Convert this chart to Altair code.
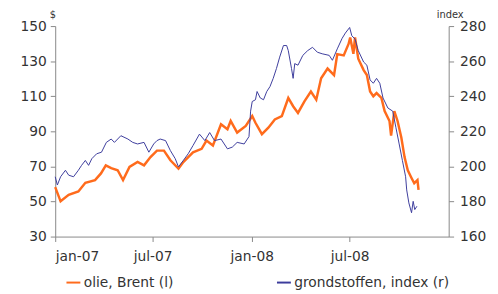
import altair as alt
import pandas as pd

# Brent oil price ($, left axis)
brent_dates = [
    "2007-01-01", "2007-01-11", "2007-01-26", "2007-02-13", "2007-02-26", "2007-03-16",
    "2007-03-27", "2007-04-05", "2007-04-15", "2007-04-27", "2007-05-07", "2007-05-19",
    "2007-06-03", "2007-06-15", "2007-06-27", "2007-07-09", "2007-07-22", "2007-08-03",
    "2007-08-18", "2007-08-27", "2007-09-14", "2007-09-30", "2007-10-09", "2007-10-21",
    "2007-11-05", "2007-11-17", "2007-11-23", "2007-12-05", "2007-12-21", "2008-01-02",
    "2008-01-08", "2008-01-20", "2008-02-01", "2008-02-13", "2008-02-26", "2008-03-09",
    "2008-03-18", "2008-03-27", "2008-04-08", "2008-04-20", "2008-04-30", "2008-05-09",
    "2008-05-21", "2008-06-02", "2008-06-08", "2008-06-20", "2008-06-29", "2008-07-02",
    "2008-07-08", "2008-07-11", "2008-07-17", "2008-07-27", "2008-08-02", "2008-08-08",
    "2008-08-14", "2008-08-20", "2008-08-29", "2008-09-04", "2008-09-13", "2008-09-16",
    "2008-09-22", "2008-09-28", "2008-10-05", "2008-10-11", "2008-10-17", "2008-10-23",
    "2008-10-29", "2008-11-04", "2008-11-06",
]
brent_values = [
    58.2, 50.1, 53.8, 55.7, 60.7, 62.2,
    66.0, 70.6, 69.0, 67.8, 62.2, 69.7,
    72.5, 70.6, 75.3, 79.0, 79.0, 73.5,
    68.8, 72.5, 78.0, 80.0, 84.7, 81.9,
    94.0, 91.2, 95.9, 89.3, 93.1, 98.7,
    94.9, 88.4, 92.1, 96.8, 98.7, 109.0,
    104.3, 100.5, 107.1, 112.7, 108.0, 120.2,
    125.8, 122.0, 134.0, 133.3, 139.8, 143.5,
    134.2, 143.5, 131.4, 124.9, 122.1, 112.7,
    110.0, 111.8, 109.0, 101.5, 95.9, 87.5,
    101.5, 95.9, 86.5, 75.3, 67.8, 64.0,
    60.4, 62.2, 56.6,
]

# Commodity index (right axis)
index_dates = [
    "2007-01-01", "2007-01-05", "2007-01-11", "2007-01-20", "2007-01-26", "2007-02-04",
    "2007-02-13", "2007-02-19", "2007-02-26", "2007-03-04", "2007-03-10", "2007-03-19",
    "2007-03-28", "2007-04-06", "2007-04-15", "2007-04-21", "2007-05-03", "2007-05-16",
    "2007-05-25", "2007-06-03", "2007-06-15", "2007-06-24", "2007-07-03", "2007-07-09",
    "2007-07-15", "2007-07-25", "2007-08-03", "2007-08-12", "2007-08-18", "2007-08-27",
    "2007-09-05", "2007-09-14", "2007-09-26", "2007-10-06", "2007-10-15", "2007-10-24",
    "2007-11-05", "2007-11-17", "2007-11-26", "2007-12-05", "2007-12-18", "2007-12-27",
    "2007-12-30", "2008-01-02", "2008-01-08", "2008-01-11", "2008-01-17", "2008-01-23",
    "2008-01-29", "2008-02-04", "2008-02-10", "2008-02-16", "2008-02-22", "2008-02-29",
    "2008-03-06", "2008-03-09", "2008-03-15", "2008-03-18", "2008-03-21", "2008-03-27",
    "2008-04-05", "2008-04-14", "2008-04-23", "2008-05-02", "2008-05-11", "2008-05-24",
    "2008-05-30", "2008-06-08", "2008-06-17", "2008-06-23", "2008-07-01", "2008-07-05",
    "2008-07-11", "2008-07-17", "2008-07-27", "2008-08-02", "2008-08-08", "2008-08-14",
    "2008-08-20", "2008-08-26", "2008-09-01", "2008-09-10", "2008-09-19", "2008-09-25",
    "2008-10-01", "2008-10-07", "2008-10-13", "2008-10-15", "2008-10-19", "2008-10-24",
    "2008-10-27", "2008-10-30", "2008-11-03",
]
index_values = [
    194.1, 189.4, 194.1, 197.8, 195.0, 194.1,
    197.8, 200.6, 203.4, 200.6, 204.4, 207.2,
    208.1, 213.7, 215.6, 213.7, 217.5, 215.6,
    213.7, 212.8, 213.7, 208.1, 212.8, 214.7,
    215.6, 214.7, 209.0, 204.4, 199.7, 203.4,
    207.2, 211.9, 218.4, 214.7, 219.3, 214.7,
    215.6, 210.0, 211.0, 213.7, 212.8, 217.0,
    231.5, 237.0, 238.0, 242.7, 239.0, 238.0,
    242.7, 245.5, 250.2, 255.8, 262.3, 268.9,
    268.9, 266.0, 255.8, 250.2, 258.6, 257.7,
    263.3, 266.0, 267.9, 265.1, 264.2, 263.3,
    260.5, 267.0, 273.0, 276.0, 279.2, 274.5,
    272.6, 266.0, 259.5, 257.7, 249.3, 247.4,
    250.2, 247.4, 239.0, 233.3, 231.5, 222.1,
    212.8, 203.4, 194.1, 186.6, 179.2, 173.6,
    180.1, 175.4, 177.3,
]

series_names = ["olie, Brent (l)", "grondstoffen, index (r)"]
series_colors = ["#FF6B1C", "#3C3C9C"]
left_ticks = [30, 50, 70, 90, 110, 130, 150]
right_ticks = [160, 180, 200, 220, 240, 260, 280]

brent_df = pd.DataFrame({"date": brent_dates, "value": brent_values, "series": series_names[0]})
index_df = pd.DataFrame({"date": index_dates, "value": index_values, "series": series_names[1]})

FONT = "DejaVu Sans"
x_enc = alt.X(
    "date:T",
    scale=alt.Scale(type="utc", domain=[alt.DateTime(year=2007, month=1, date=1, utc=True),
                                        alt.DateTime(year=2009, month=1, date=1, utc=True)]),
    axis=alt.Axis(
        title=None,
        values=[alt.DateTime(year=2007, month=1, date=1, utc=True),
                alt.DateTime(year=2007, month=7, date=1, utc=True),
                alt.DateTime(year=2008, month=1, date=1, utc=True),
                alt.DateTime(year=2008, month=7, date=1, utc=True)],
        labelExpr="lower(utcFormat(datum.value, '%b-%y'))",
        grid=False,
        tickSize=5,
        labelPadding=8,
        labelFontSize=14,
        labelFont=FONT,
        labelColor="#333333",
        domainColor="#888888",
        tickColor="#888888",
    ),
)

color_enc = alt.Color(
    "series:N",
    scale=alt.Scale(domain=series_names, range=series_colors),
    legend=alt.Legend(
        title=None,
        orient="none",
        legendX=10,
        legendY=252,
        padding=0,
        direction="horizontal",
        symbolType="stroke",
        symbolSize=200,
        symbolStrokeWidth=2,
        columnPadding=100,
        labelFontSize=14,
        labelFont=FONT,
        labelColor="#333333",
        labelOffset=2,
    ),
)

left = alt.Chart(brent_df).mark_line(strokeWidth=2.5).encode(
    x=x_enc,
    y=alt.Y(
        "value:Q",
        scale=alt.Scale(domain=[30, 150], nice=False, zero=False),
        axis=alt.Axis(
            values=left_ticks, grid=False, tickSize=5, labelPadding=4,
            labelFontSize=14, labelFont=FONT, labelColor="#333333",
            domainColor="#888888", tickColor="#888888",
            title="$", titleAngle=0, titleX=-3, titleY=-7, titleAlign="center",
            titleBaseline="bottom", titleFontSize=10, titleFontWeight="normal",
            titleFont=FONT, titleColor="#333333",
        ),
    ),
    color=color_enc,
)

right = alt.Chart(index_df).mark_line(strokeWidth=1).encode(
    x=x_enc,
    y=alt.Y(
        "value:Q",
        scale=alt.Scale(domain=[160, 280], nice=False, zero=False),
        axis=alt.Axis(
            orient="right", values=right_ticks, grid=False, tickSize=5, labelPadding=6,
            labelFontSize=14, labelFont=FONT, labelColor="#333333",
            domainColor="#888888", tickColor="#888888",
            title="index", titleAngle=0, titleX=1, titleY=-7, titleAlign="center",
            titleBaseline="bottom", titleFontSize=10, titleFontWeight="normal",
            titleFont=FONT, titleColor="#333333",
        ),
    ),
    color=color_enc,
)

chart = (
    alt.layer(left, right)
    .resolve_scale(y="independent")
    .properties(
        width=400,
        height=214,
        autosize=alt.AutoSizeParams(type="none"),
        padding={"left": 48, "top": 16, "right": 42, "bottom": 56},
    )
    .configure_view(stroke=None)
)

chart.save("out.html", embed_options={"renderer": "svg", "actions": False})
